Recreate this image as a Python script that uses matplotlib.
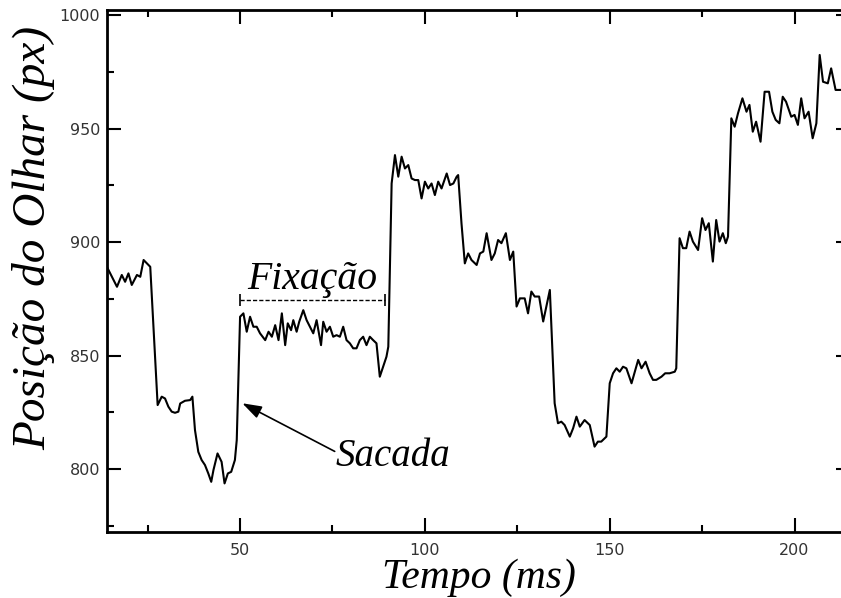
import matplotlib
matplotlib.use("Agg")
import matplotlib.pyplot as plt
from matplotlib.ticker import MultipleLocator

# gaze trace (time in ms, position in px)
tempo_ms = [14.0, 16.7, 18.0, 18.9, 19.8, 20.7, 22.1, 23.0, 23.9, 24.8, 25.7,
            27.0, 27.7, 28.8, 29.7, 30.6, 31.5, 32.4, 33.3, 33.8, 35.1, 36.5, 37.1,
            37.8, 38.7, 39.6, 40.5, 41.4, 42.2, 42.8, 43.9, 45.0, 45.8, 46.7, 47.6,
            48.6, 49.1,
            50.0, 50.9, 51.8, 52.7, 53.6, 54.5, 55.4, 56.8, 57.7, 58.6, 59.5, 60.4,
            61.3, 62.2, 62.9, 63.8, 64.4, 65.3, 66.0, 67.1, 68.0, 68.9, 69.8, 70.7,
            71.9, 72.5, 73.4, 74.3, 75.2, 76.1, 77.0, 77.9, 78.8, 79.7, 80.6, 81.5,
            82.4, 83.3, 84.2, 85.1, 86.0, 86.9, 87.8, 88.7, 89.6, 90.1, 90.5,
            91.0, 91.9, 92.8, 93.7, 94.6, 95.5, 96.4, 97.3, 98.2, 99.1, 100.0,
            100.9, 101.8, 102.7, 103.6, 104.5, 105.9, 106.8, 107.7, 108.6, 109.0,
            109.9, 110.8, 111.7, 112.6,
            114.0, 114.9, 115.8, 116.7, 118.0, 118.9, 119.8, 120.7, 121.9, 123.0,
            123.9, 124.8, 125.7, 127.0, 127.9, 128.8, 129.7, 130.9, 132.0, 133.8,
            135.1, 136.0, 136.9, 137.8, 139.2, 140.1, 141.0, 141.9, 143.2, 144.6,
            145.9, 146.8, 147.7, 149.1,
            150.0, 150.9, 151.8, 152.7, 153.6, 154.5, 155.9, 156.8, 157.7, 158.6,
            159.7, 160.8, 161.7, 162.6, 164.0, 165.0, 166.2, 167.6, 168.0,
            168.9, 169.8, 170.7, 171.6, 172.5, 173.9, 175.0, 175.9, 176.8, 177.9,
            178.8, 179.7, 180.6, 181.4, 182.0,
            182.9, 183.8, 184.7, 185.9, 187.0, 187.8, 188.7, 189.6, 190.8, 191.9,
            193.1, 194.0, 194.9, 195.9, 196.8, 197.7, 199.1, 200.0, 200.9, 201.8,
            202.7, 203.8, 204.9, 205.9, 206.8, 207.7, 209.0, 209.9, 211.1, 212.4]
posicao_px = [889.0, 880.3, 885.5, 882.5, 886.2, 881.1, 885.5, 884.7, 892.1, 890.6, 889.1,
              849.5, 828.2, 831.9, 831.1, 827.5, 825.3, 824.8, 825.3, 828.9, 830.1, 830.4, 831.9,
              817.2, 807.6, 804.0, 801.8, 798.1, 794.4, 799.6, 806.9, 803.2, 793.7, 798.1, 798.8,
              804.0, 812.8,
              867.1, 868.6, 860.5, 867.1, 862.7, 862.7, 859.8, 856.8, 860.5, 858.3, 863.4, 856.8,
              868.6, 854.6, 864.2, 861.2, 865.6, 860.5, 864.9, 870.0, 865.6, 862.7, 859.8, 865.6,
              854.6, 864.9, 860.5, 862.7, 858.3, 859.0, 858.3, 862.7, 856.8, 855.4, 853.2, 853.2,
              856.8, 858.3, 854.6, 858.3, 856.8, 855.4, 840.7, 845.1, 849.5, 853.9, 886.2,
              925.8, 938.3, 928.8, 937.6, 932.4, 933.9, 928.0, 927.3, 927.3, 919.2, 926.6,
              923.6, 925.8, 920.7, 926.6, 923.6, 930.2, 925.1, 925.8, 928.8, 929.5,
              908.2, 890.6, 895.0, 892.1,
              889.9, 895.0, 895.8, 903.9, 892.1, 895.0, 900.9, 899.5, 903.9, 892.1,
              895.8, 871.6, 875.2, 875.2, 868.6, 878.2, 876.0, 876.0, 865.0, 878.9,
              829.0, 820.2, 820.9, 819.4, 814.3, 818.0, 823.1, 818.7, 821.6, 819.4,
              809.9, 812.1, 812.1, 814.3,
              837.8, 842.2, 844.4, 842.9, 845.1, 844.4, 837.8, 842.9, 848.1, 844.4,
              847.3, 842.2, 839.3, 839.3, 840.7, 842.2, 842.2, 842.9, 844.4,
              901.7, 897.3, 897.3, 904.6, 900.2, 896.5, 910.5, 905.3, 908.3, 891.4,
              909.7, 900.2, 903.9, 899.5, 902.4,
              954.5, 950.8, 956.7, 963.3, 957.4, 960.4, 948.6, 953.0, 944.2, 966.2,
              966.2, 957.4, 953.8, 952.3, 964.0, 961.8, 955.2, 956.0, 951.6, 963.3,
              954.5, 957.4, 945.7, 952.3, 982.4, 970.6, 969.9, 976.5, 967.0, 967.0]

fixacao_inicio, fixacao_fim, fixacao_y = 50.0, 89.2, 874.5
sacada_ponta = (50.6, 829.0)
sacada_cauda = (75.6, 807.8)

serif = "Liberation Serif"

fig = plt.figure(figsize=(8.41, 5.98), dpi=100)
ax = fig.add_axes([107 / 841, 66 / 598, 743 / 841, 522 / 598])

ax.plot(tempo_ms, posicao_px, color="black", lw=1.5)

# fixation bracket
ax.plot([fixacao_inicio, fixacao_fim], [fixacao_y, fixacao_y], color="black",
        lw=1.0, ls=(0, (3, 1.5)))
ax.plot([fixacao_inicio, fixacao_fim], [fixacao_y, fixacao_y], ls="none",
        marker="|", markersize=9, mew=1.2, color="black")
ax.text((fixacao_inicio + fixacao_fim) / 2, fixacao_y + 5.0, "Fixação",
        family=serif, style="italic", fontsize=28.5, ha="center", va="baseline")

# saccade arrow
ax.annotate("", xy=sacada_ponta, xytext=sacada_cauda,
            arrowprops=dict(arrowstyle="-|>,head_length=0.9,head_width=0.3",
                            color="black", lw=1.2, mutation_scale=13,
                            shrinkA=0, shrinkB=0))
ax.text(75.9, 801.3, "Sacada", family=serif, style="italic", fontsize=28,
        ha="left", va="baseline")

ax.set_xlim(14, 215)
ax.set_ylim(772.3, 1002.2)
ax.xaxis.set_major_locator(MultipleLocator(50))
ax.xaxis.set_minor_locator(MultipleLocator(25))
ax.yaxis.set_major_locator(MultipleLocator(50))
ax.yaxis.set_minor_locator(MultipleLocator(25))

ax.tick_params(which="both", direction="in", top=True, right=True, width=1.5,
               colors="black", labelcolor="#333333", labelsize=11.5)
ax.tick_params(which="major", length=10)
ax.tick_params(which="minor", length=5)
ax.tick_params(axis="x", pad=8)
ax.tick_params(axis="y", pad=5)
for s in ax.spines.values():
    s.set_linewidth(2.0)

ax.set_xlabel("Tempo (ms)", family=serif, style="italic", fontsize=30)
ax.set_ylabel("Posição do Olhar (px)", family=serif, style="italic", fontsize=34)
ax.xaxis.set_label_coords(0.5, -0.05)
ax.yaxis.set_label_coords(-0.069, 0.563)

fig.savefig("out.png", dpi=100)
